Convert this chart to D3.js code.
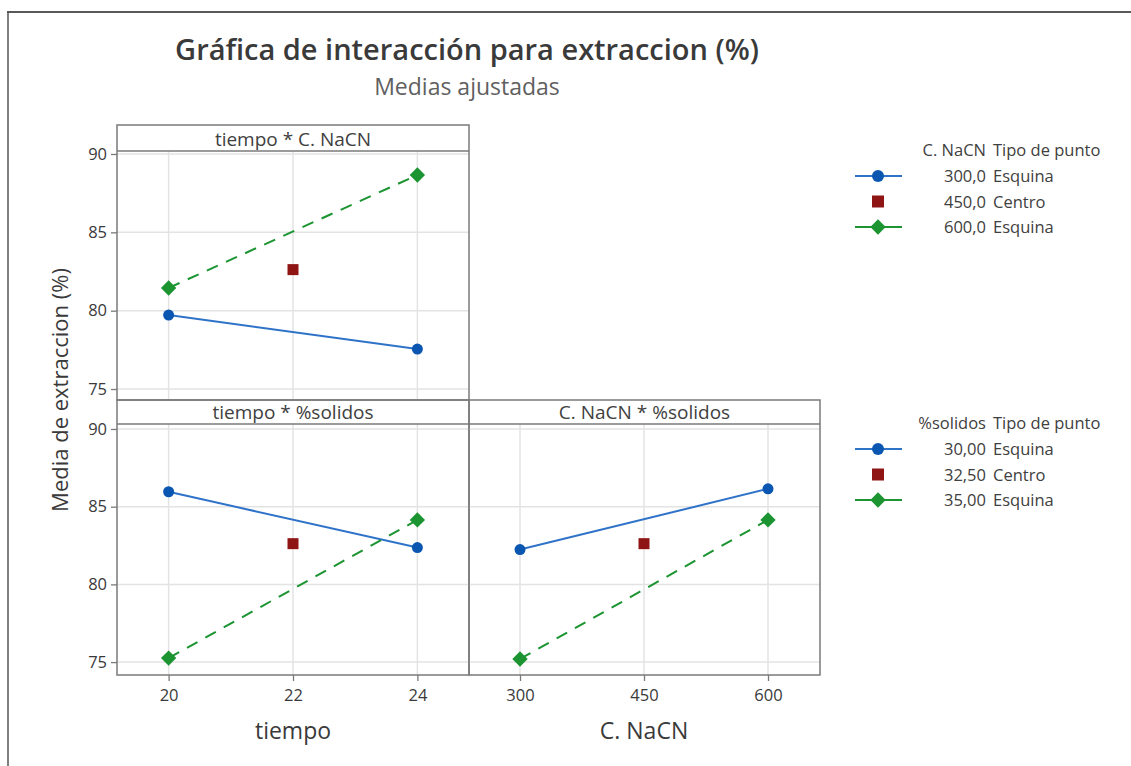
<!DOCTYPE html>
<html>
<head>
<meta charset="utf-8">
<script src="https://cdn.jsdelivr.net/npm/d3@7"></script>
<style>
  body { margin: 0; background: #fff; }
  svg text { font-family: 'Open Sans', 'Noto Sans', sans-serif; }
</style>
</head>
<body>
<div id="chart"></div>
<script>
// levels of each factor (corner points and center point)
const tiempoCorners = [20, 24]
const tiempoCenter = 22
const nacnCorners = [300, 600]
const nacnCenter = 450
const centerMean = 82.62

// panel: tiempo * C. NaCN  (series = C. NaCN 300 / 600)
const tiempoNacn300 = [79.72, 77.55]
const tiempoNacn600 = [81.45, 88.66]
// panel: tiempo * %solidos  (series = %solidos 30 / 35)
const tiempoSol30 = [85.96, 82.37]
const tiempoSol35 = [75.26, 84.15]
// panel: C. NaCN * %solidos
const nacnSol30 = [82.24, 86.15]
const nacnSol35 = [75.2, 84.15]

const yTicks = [75, 80, 85, 90]
const tiempoTicks = [20, 22, 24]
const nacnTicks = [300, 450, 600]

const legendNacn = ['300,0', '450,0', '600,0']
const legendSol = ['30,00', '32,50', '35,00']
const legendTipo = ['Esquina', 'Centro', 'Esquina']

const blue = '#0a56b0'
const blueLine = '#2f73c9'
const green = '#1b9431'
const red = '#8f1414'
const frame = '#7a7a7a'
const ink = '#3a3a3a'

const svg = d3.select('#chart')
  .append('svg')
  .attr('width', 1131)
  .attr('height', 766)

// outer frame (top and left edges only are visible)
svg.append('line').attr('x1', 7).attr('x2', 1131).attr('y1', 12).attr('y2', 12)
  .attr('stroke', '#222').attr('stroke-width', 1.5)
svg.append('line').attr('x1', 8).attr('x2', 8).attr('y1', 12).attr('y2', 766)
  .attr('stroke', '#555').attr('stroke-width', 1.5)

// title
svg.append('text').attr('x', 467).attr('y', 60).attr('text-anchor', 'middle')
  .attr('font-size', 29).attr('font-weight', 600).attr('fill', '#3a3a3a')
  .text('Gráfica de interacción para extraccion (%)')
svg.append('text').attr('x', 467).attr('y', 95).attr('text-anchor', 'middle')
  .attr('font-size', 23).attr('fill', '#606060')
  .text('Medias ajustadas')

const tiempoX = d3.scaleLinear().domain([19.17, 24.83])
const nacnX = d3.scaleLinear().domain([238.3, 662.9])

const panels = [
  { title: 'tiempo * C. NaCN', x0: 117, x1: 469, top: 125, plotTop: 151, bottom: 400,
    x: tiempoX, corners: tiempoCorners, center: tiempoCenter, xTicks: tiempoTicks,
    a: tiempoNacn300, b: tiempoNacn600, yAxis: true, xAxis: false },
  { title: 'tiempo * %solidos', x0: 117, x1: 469, top: 400, plotTop: 424, bottom: 675,
    x: tiempoX, corners: tiempoCorners, center: tiempoCenter, xTicks: tiempoTicks,
    a: tiempoSol30, b: tiempoSol35, yAxis: true, xAxis: true },
  { title: 'C. NaCN * %solidos', x0: 469, x1: 820, top: 400, plotTop: 424, bottom: 675,
    x: nacnX, corners: nacnCorners, center: nacnCenter, xTicks: nacnTicks,
    a: nacnSol30, b: nacnSol35, yAxis: false, xAxis: true }
]

const diamond = d3.symbol().type(d3.symbolDiamond2).size(150)

panels.forEach(p => {
  const x = p.x.copy().range([p.x0, p.x1])
  const yDomain = p.top === 125 ? [74.3, 90.19] : [74.17, 90.32]
  const y = d3.scaleLinear().domain(yDomain).range([p.bottom, p.plotTop])
  const g = svg.append('g')

  // gridlines
  g.selectAll('.hgrid').data(yTicks).enter().append('line')
    .attr('x1', p.x0).attr('x2', p.x1)
    .attr('y1', d => y(d)).attr('y2', d => y(d))
    .attr('stroke', '#e3e3e3').attr('stroke-width', 1.5)
  g.selectAll('.vgrid').data(p.xTicks).enter().append('line')
    .attr('x1', d => x(d)).attr('x2', d => x(d))
    .attr('y1', p.plotTop).attr('y2', p.bottom)
    .attr('stroke', '#e3e3e3').attr('stroke-width', 1.5)

  // panel border and strip
  g.append('rect').attr('x', p.x0).attr('y', p.top)
    .attr('width', p.x1 - p.x0).attr('height', p.bottom - p.top)
    .attr('fill', 'none').attr('stroke', frame).attr('stroke-width', 1.5)
  g.append('line').attr('x1', p.x0).attr('x2', p.x1)
    .attr('y1', p.plotTop).attr('y2', p.plotTop)
    .attr('stroke', frame).attr('stroke-width', 1.5)
  g.append('text').attr('x', (p.x0 + p.x1) / 2).attr('y', p.plotTop - 5)
    .attr('text-anchor', 'middle').attr('font-size', 19).attr('fill', '#404040')
    .text(p.title)

  if (p.yAxis) {
    const ax = svg.append('g').attr('transform', `translate(${p.x0},0)`)
      .call(d3.axisLeft(y).tickValues(yTicks).tickSize(6).tickPadding(4))
    ax.select('.domain').remove()
    ax.selectAll('line').attr('stroke', frame).attr('stroke-width', 1.3)
    ax.selectAll('text').attr('font-size', 16.5).attr('fill', ink)
  }
  if (p.xAxis) {
    const ax = svg.append('g').attr('transform', `translate(0,${p.bottom})`)
      .call(d3.axisBottom(x).tickValues(p.xTicks).tickFormat(d3.format('d'))
        .tickSize(6).tickPadding(8))
    ax.select('.domain').remove()
    ax.selectAll('line').attr('stroke', frame).attr('stroke-width', 1.3)
    ax.selectAll('text').attr('font-size', 16.5).attr('fill', ink)
  }

  const line = d3.line().x(d => x(d[0])).y(d => y(d[1]))
  const ptsA = p.corners.map((c, i) => [c, p.a[i]])
  const ptsB = p.corners.map((c, i) => [c, p.b[i]])

  g.append('path').attr('d', line(ptsA)).attr('fill', 'none')
    .attr('stroke', blueLine).attr('stroke-width', 2)
  g.append('path').attr('d', line(ptsB)).attr('fill', 'none')
    .attr('stroke', green).attr('stroke-width', 2).attr('stroke-dasharray', '12 9')

  g.selectAll('.ma').data(ptsA).enter().append('circle')
    .attr('cx', d => x(d[0])).attr('cy', d => y(d[1])).attr('r', 5.5)
    .attr('fill', blue)
  g.selectAll('.mb').data(ptsB).enter().append('path')
    .attr('d', diamond)
    .attr('transform', d => `translate(${x(d[0])},${y(d[1])})`)
    .attr('fill', green)
  g.append('rect')
    .attr('x', x(p.center) - 5.5).attr('y', y(centerMean) - 5.5)
    .attr('width', 11).attr('height', 11).attr('fill', red)
})

// axis titles
svg.append('text')
  .attr('transform', 'translate(68,390) rotate(-90)')
  .attr('text-anchor', 'middle').attr('font-size', 22).attr('fill', ink)
  .text('Media de extraccion (%)')
svg.append('text').attr('x', 293).attr('y', 739).attr('text-anchor', 'middle')
  .attr('font-size', 23).attr('fill', ink).text('tiempo')
svg.append('text').attr('x', 644).attr('y', 739).attr('text-anchor', 'middle')
  .attr('font-size', 23).attr('fill', ink).text('C. NaCN')

// legends
function legend(top, factor, values) {
  const lg = svg.append('g')
  lg.append('text').attr('x', 986).attr('y', top).attr('text-anchor', 'end')
    .attr('font-size', 16.5).attr('fill', '#404040').text(factor)
  lg.append('text').attr('x', 993).attr('y', top)
    .attr('font-size', 16.5).attr('fill', '#404040').text('Tipo de punto')
  values.forEach((v, i) => {
    const cy = top + 20 + i * 25.5
    lg.append('text').attr('x', 986).attr('y', cy + 6).attr('text-anchor', 'end')
      .attr('font-size', 16.5).attr('fill', '#404040').text(v)
    lg.append('text').attr('x', 993).attr('y', cy + 6)
      .attr('font-size', 16.5).attr('fill', '#404040').text(legendTipo[i])
    if (i === 0) {
      lg.append('line').attr('x1', 855).attr('x2', 902).attr('y1', cy).attr('y2', cy)
        .attr('stroke', blueLine).attr('stroke-width', 2)
      lg.append('circle').attr('cx', 878).attr('cy', cy).attr('r', 6).attr('fill', blue)
    } else if (i === 1) {
      lg.append('rect').attr('x', 872).attr('y', cy - 6).attr('width', 12).attr('height', 12)
        .attr('fill', red)
    } else {
      lg.append('line').attr('x1', 855).attr('x2', 902).attr('y1', cy).attr('y2', cy)
        .attr('stroke', green).attr('stroke-width', 2)
      lg.append('path').attr('d', diamond).attr('transform', `translate(878,${cy})`)
        .attr('fill', green)
    }
  })
}
legend(156, 'C. NaCN', legendNacn)
legend(429, '%solidos', legendSol)
</script>
</body>
</html>
